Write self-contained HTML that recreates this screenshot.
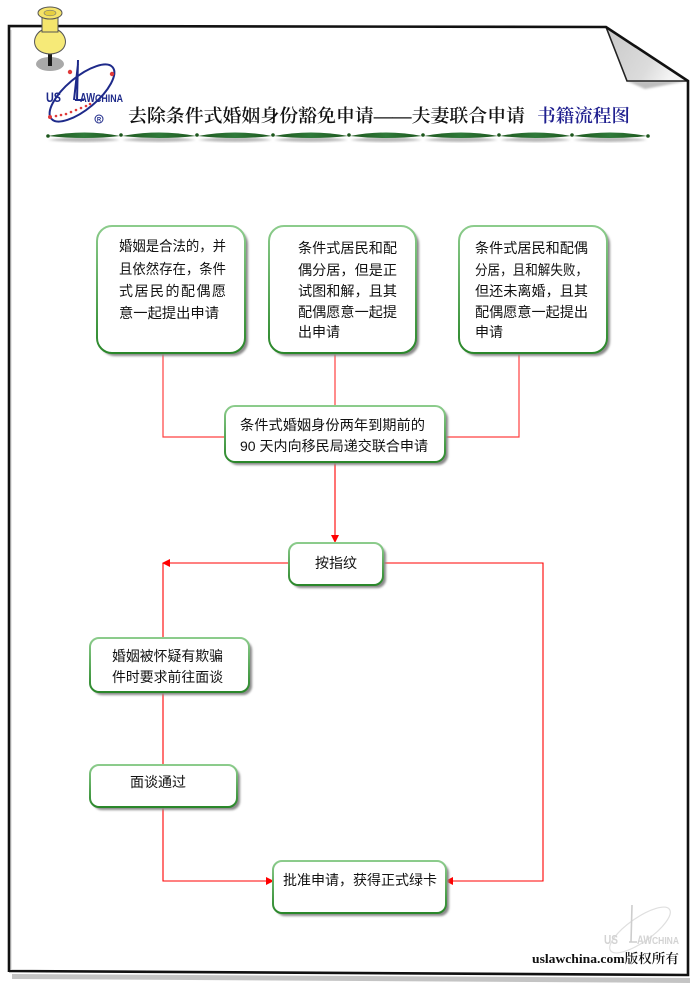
<!DOCTYPE html>
<html><head><meta charset="utf-8">
<style>
html,body{margin:0;padding:0;background:#fff;width:700px;height:990px;overflow:hidden}
svg{display:block}
.t{font-family:"Liberation Sans","Noto Sans CJK SC",sans-serif;font-size:14px;fill:#111}
.s{font-family:"Liberation Serif","Noto Serif CJK SC",serif}
</style></head><body>
<svg width="700" height="990" viewBox="0 0 700 990" xmlns="http://www.w3.org/2000/svg">
<defs>
<linearGradient id="gb" x1="0" y1="0" x2="0" y2="1">
<stop offset="0" stop-color="#8ccc8c"/><stop offset="1" stop-color="#2a872a"/>
</linearGradient>
<linearGradient id="fold" x1="0" y1="0" x2="1" y2="0.4">
<stop offset="0" stop-color="#c8c8c8"/><stop offset="0.7" stop-color="#dcdcdc"/><stop offset="1" stop-color="#f4f4f4"/>
</linearGradient>
<linearGradient id="gs" x1="0" y1="0" x2="1" y2="0">
<stop offset="0" stop-color="#1c561c"/><stop offset="0.5" stop-color="#2f7a3a"/><stop offset="1" stop-color="#1c561c"/>
</linearGradient>
<filter id="bl" x="-10%" y="-10%" width="120%" height="130%"><feGaussianBlur stdDeviation="1"/></filter>
</defs>

<!-- page shadow -->
<polygon points="12,974 690,978 690,983 12,979" fill="#c4c4c4"/>
<line x1="11" y1="30" x2="11" y2="969" stroke="#cfcfcf" stroke-width="1"/>
<!-- page fold -->
<polygon points="627,81 687,81 645,89" fill="#bdbdbd" filter="url(#bl)"/>
<polygon points="606,27 627,81 687,81" fill="url(#fold)"/>
<path d="M606,27 L627,81 L687,81" fill="none" stroke="#222" stroke-width="1.6"/>
<!-- page border -->
<path d="M9,972 L9,26 L606,27 L688,81 L688,975 L9,971" fill="none" stroke="#111" stroke-width="2.6" stroke-linejoin="miter"/>

<!-- pushpin -->
<ellipse cx="50" cy="64" rx="14" ry="7" fill="#a9a9a9"/>
<rect x="48" y="48" width="4" height="18" fill="#1a1a1a"/>
<path d="M42,30 C31,36 31,53 50,54 C69,53 69,36 58,30 Z" fill="#f6ea78" stroke="#555" stroke-width="1"/>
<rect x="42" y="16" width="16" height="16" fill="#f4e56c" stroke="#555" stroke-width="1"/>
<ellipse cx="50" cy="13" rx="12" ry="6" fill="#f5e46a" stroke="#555" stroke-width="1"/>
<ellipse cx="50" cy="13" rx="6" ry="2.8" fill="#e6cf40" stroke="#777" stroke-width="0.6"/>

<!-- logo -->
<g>
<ellipse cx="82" cy="93" rx="40" ry="16" transform="rotate(-40 82 93)" fill="none" stroke="#1e2a8a" stroke-width="2"/>
<path d="M78,60 L77,100 M75,100 L84,100 M78,64 L74,100" stroke="#1e2a8a" stroke-width="2" fill="none"/>
<text x="46" y="102" font-family="Liberation Sans, sans-serif" font-weight="bold" font-size="14" fill="#1e2a8a" textLength="15" lengthAdjust="spacingAndGlyphs">US</text>
<text x="80" y="102" font-family="Liberation Sans, sans-serif" font-weight="bold" font-size="13" fill="#1e2a8a" textLength="15" lengthAdjust="spacingAndGlyphs">AW</text>
<text x="95" y="102" font-family="Liberation Sans, sans-serif" font-weight="bold" font-size="11" fill="#1e2a8a" textLength="28" lengthAdjust="spacingAndGlyphs">CHINA</text>
<g fill="#e03a3a">
<circle cx="50" cy="117" r="2"/><circle cx="56" cy="116" r="1.3"/><circle cx="61" cy="115" r="1.3"/><circle cx="66" cy="114" r="1.3"/><circle cx="71" cy="112" r="1.3"/><circle cx="76" cy="110" r="1.3"/><circle cx="81" cy="108" r="1.3"/><circle cx="86" cy="106" r="1.3"/><circle cx="90" cy="104" r="1.3"/>
<circle cx="70" cy="72" r="2.2"/><circle cx="112" cy="74" r="2.2"/>
</g>
<circle cx="99" cy="119" r="4" fill="none" stroke="#1e2a8a" stroke-width="1"/>
<text x="99" y="121.5" text-anchor="middle" font-family="Liberation Sans, sans-serif" font-size="6" font-weight="bold" fill="#1e2a8a">R</text>
</g>

<!-- title -->
<text class="s" x="128" y="122" font-size="18" font-weight="600" fill="#111" textLength="397" lengthAdjust="spacingAndGlyphs">去除条件式婚姻身份豁免申请——夫妻联合申请</text>
<text class="s" x="537" y="122" font-size="18" font-weight="600" fill="#1f1f8f" textLength="93" lengthAdjust="spacingAndGlyphs">书籍流程图</text>

<!-- divider -->
<g>
<g fill="#b8b8b8" filter="url(#bl)">
<path d="M48,140 Q85,134 120,140 Q85,144 48,140 Z"/><path d="M122,140 Q159,134 196,140 Q159,144 122,140 Z"/>
<path d="M198,140 Q235,134 272,140 Q235,144 198,140 Z"/><path d="M274,140 Q311,134 348,140 Q311,144 274,140 Z"/>
<path d="M350,140 Q386,134 422,140 Q386,144 350,140 Z"/><path d="M424,140 Q461,134 498,140 Q461,144 424,140 Z"/>
<path d="M500,140 Q535,134 571,140 Q535,144 500,140 Z"/><path d="M573,140 Q610,134 647,140 Q610,144 573,140 Z"/>
</g>
<g fill="url(#gs)">
<path d="M48,136 Q85,129 120,136 Q85,140 48,136 Z"/><path d="M122,136 Q159,129 196,136 Q159,140 122,136 Z"/>
<path d="M198,136 Q235,129 272,136 Q235,140 198,136 Z"/><path d="M274,136 Q311,129 348,136 Q311,140 274,136 Z"/>
<path d="M350,136 Q386,129 422,136 Q386,140 350,136 Z"/><path d="M424,136 Q461,129 498,136 Q461,140 424,136 Z"/>
<path d="M500,136 Q535,129 571,136 Q535,140 500,136 Z"/><path d="M573,136 Q610,129 647,136 Q610,140 573,136 Z"/>
</g>
<g fill="#1c561c">
<circle cx="48" cy="136" r="1.8"/><circle cx="121" cy="135" r="1.8"/><circle cx="197" cy="135" r="1.8"/><circle cx="273" cy="135" r="1.8"/><circle cx="349" cy="135" r="1.8"/><circle cx="423" cy="135" r="1.8"/><circle cx="499" cy="135" r="1.8"/><circle cx="572" cy="135" r="1.8"/><circle cx="648" cy="136" r="1.8"/>
</g>
</g>

<!-- connectors -->
<g fill="none" stroke="#ff4040" stroke-width="1.2">
<path d="M163,353 L163,437 L225,437"/>
<path d="M335,353 L335,406"/>
<path d="M519,353 L519,437 L445,437"/>
</g>
<g fill="none" stroke="#ff0000" stroke-width="1.1">
<path d="M335,462 L335,536"/>
<path d="M289,563 L168,563"/>
<path d="M163,563 L163,638"/>
<path d="M163,692 L163,765"/>
<path d="M163,807 L163,881 L267,881"/>
<path d="M383,563 L543,563 L543,881 L452,881"/>
</g>
<g fill="#ff0000">
<polygon points="331,535 339,535 335,543"/>
<polygon points="170,559 170,567 162,563"/>
<polygon points="266,877 266,885 274,881"/>
<polygon points="453,877 453,885 445,881"/>
</g>

<!-- boxes -->
<g>
<g fill="#8a8a8a" filter="url(#bl)">
<rect x="100" y="229" width="148" height="127" rx="15"/>
<rect x="272" y="229" width="147" height="127" rx="15"/>
<rect x="462" y="229" width="148" height="127" rx="15"/>
<rect x="228" y="409" width="220" height="56" rx="10"/>
<rect x="292" y="546" width="94" height="42" rx="9"/>
<rect x="93" y="641" width="159" height="54" rx="9"/>
<rect x="93" y="768" width="147" height="42" rx="9"/>
<rect x="276" y="864" width="173" height="52" rx="9"/>
</g>
<g fill="#fff" stroke="url(#gb)" stroke-width="2">
<rect x="97" y="226" width="148" height="127" rx="15"/>
<rect x="269" y="226" width="147" height="127" rx="15"/>
<rect x="459" y="226" width="148" height="127" rx="15"/>
<rect x="225" y="406" width="220" height="56" rx="10"/>
<rect x="289" y="543" width="94" height="42" rx="9"/>
<rect x="90" y="638" width="159" height="54" rx="9"/>
<rect x="90" y="765" width="147" height="42" rx="9"/>
<rect x="273" y="861" width="173" height="52" rx="9"/>
</g>
</g>

<!-- box texts -->
<g class="t">
<text class="t" x="119" y="251" textLength="107" lengthAdjust="spacingAndGlyphs">婚姻是合法的，并</text>
<text class="t" x="119" y="274" textLength="107" lengthAdjust="spacingAndGlyphs">且依然存在，条件</text>
<text class="t" x="119" y="296" textLength="107" lengthAdjust="spacing">式居民的配偶愿</text>
<text class="t" x="119" y="318" textLength="100" lengthAdjust="spacingAndGlyphs">意一起提出申请</text>

<text class="t" x="298" y="253" textLength="99" lengthAdjust="spacingAndGlyphs">条件式居民和配</text>
<text class="t" x="298" y="275" textLength="99" lengthAdjust="spacingAndGlyphs">偶分居，但是正</text>
<text class="t" x="298" y="296" textLength="99" lengthAdjust="spacingAndGlyphs">试图和解，且其</text>
<text class="t" x="298" y="317" textLength="99" lengthAdjust="spacingAndGlyphs">配偶愿意一起提</text>
<text class="t" x="298" y="337" textLength="42" lengthAdjust="spacingAndGlyphs">出申请</text>

<text class="t" x="475" y="253" textLength="113" lengthAdjust="spacingAndGlyphs">条件式居民和配偶</text>
<text class="t" x="475" y="275" textLength="113" lengthAdjust="spacingAndGlyphs">分居，且和解失败，</text>
<text class="t" x="475" y="296" textLength="113" lengthAdjust="spacingAndGlyphs">但还未离婚，且其</text>
<text class="t" x="475" y="317" textLength="113" lengthAdjust="spacingAndGlyphs">配偶愿意一起提出</text>
<text class="t" x="475" y="337" textLength="28" lengthAdjust="spacingAndGlyphs">申请</text>

<text class="t" x="240" y="430" textLength="185" lengthAdjust="spacingAndGlyphs">条件式婚姻身份两年到期前的</text>
<text class="t" x="240" y="451" textLength="188" lengthAdjust="spacingAndGlyphs">90 天内向移民局递交联合申请</text>

<text class="t" x="315" y="568" textLength="42" lengthAdjust="spacingAndGlyphs">按指纹</text>

<text class="t" x="112" y="661" textLength="111" lengthAdjust="spacingAndGlyphs">婚姻被怀疑有欺骗</text>
<text class="t" x="112" y="682" textLength="111" lengthAdjust="spacingAndGlyphs">件时要求前往面谈</text>

<text class="t" x="130" y="787" textLength="56" lengthAdjust="spacingAndGlyphs">面谈通过</text>

<text class="t" x="283" y="885" textLength="154" lengthAdjust="spacingAndGlyphs">批准申请，获得正式绿卡</text>
</g>

<!-- watermark -->
<g opacity="0.9">
<ellipse cx="640" cy="930" rx="36" ry="12" transform="rotate(-35 640 930)" fill="none" stroke="#dcdcdc" stroke-width="1.2"/>
<path d="M632,905 L631,942 M629,942 L637,942" stroke="#c8c8c8" stroke-width="1.6" fill="none"/>
<text x="604" y="944" font-family="Liberation Sans, sans-serif" font-weight="bold" font-size="13" fill="#cfcfcf" textLength="14" lengthAdjust="spacingAndGlyphs">US</text>
<text x="637" y="944" font-family="Liberation Sans, sans-serif" font-weight="bold" font-size="12" fill="#cfcfcf" textLength="15" lengthAdjust="spacingAndGlyphs">AW</text>
<text x="652" y="944" font-family="Liberation Sans, sans-serif" font-weight="bold" font-size="10" fill="#cfcfcf" textLength="27" lengthAdjust="spacingAndGlyphs">CHINA</text>
</g>

<!-- footer -->
<text class="s" x="532" y="963" font-size="13" font-weight="600" fill="#111" textLength="147" lengthAdjust="spacingAndGlyphs">uslawchina.com版权所有</text>
</svg>
</body></html>
